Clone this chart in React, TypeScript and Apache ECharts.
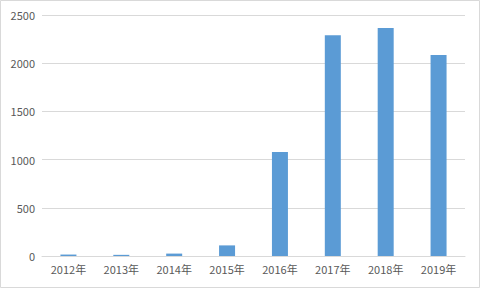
import React, { useEffect, useRef } from "react";
import * as echarts from "echarts";

const categories = ["2012年", "2013年", "2014年", "2015年", "2016年", "2017年", "2018年", "2019年"];
const values = [15, 12, 25, 110, 1080, 2290, 2365, 2085];
const yTicks = [0, 500, 1000, 1500, 2000, 2500];

export default function App() {
  const ref = useRef<HTMLDivElement>(null);
  useEffect(() => {
    const chart = echarts.init(ref.current!, null, { renderer: "svg" });
    chart.setOption({
      animation: false,
      backgroundColor: "#ffffff",
      grid: { left: 42, right: 16, top: 15, bottom: 33, containLabel: false },
      graphic: [
        {
          type: "rect",
          shape: { x: 0.5, y: 0.5, width: 479, height: 287 },
          style: { fill: "none", stroke: "#d9d9d9", lineWidth: 1 },
        },
      ],
      xAxis: {
        type: "category",
        data: categories,
        axisTick: { show: false },
        axisLine: { show: true, lineStyle: { color: "#d9d9d9", width: 1 } },
        axisLabel: {
          color: "#595959",
          fontSize: 11,
          fontFamily: "Noto Sans CJK SC",
          margin: 7,
        },
      },
      yAxis: {
        type: "value",
        min: yTicks[0],
        max: yTicks[yTicks.length - 1],
        interval: 500,
        axisLine: { show: false },
        axisTick: { show: false },
        splitLine: { lineStyle: { color: "#d9d9d9", width: 1 } },
        axisLabel: {
          color: "#595959",
          fontSize: 11,
          fontFamily: "Noto Sans CJK SC",
          margin: 7,
          formatter: (v: number) => String(v),
        },
      },
      series: [
        {
          type: "bar",
          data: values,
          barWidth: 16,
          itemStyle: { color: "#5b9bd5" },
        },
      ],
    });
    return () => chart.dispose();
  }, []);
  return <div ref={ref} style={{ width: 481, height: 289, position: "absolute", left: 0, top: 0 }} />;
}
